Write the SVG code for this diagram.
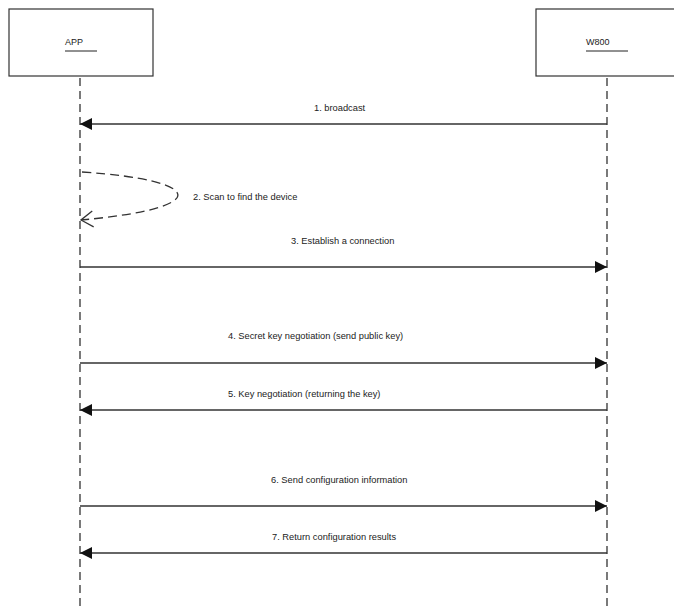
<svg xmlns="http://www.w3.org/2000/svg" width="674" height="611" viewBox="0 0 674 611">
<style>
.box{fill:#fff;stroke:#333;stroke-width:1.2}
.lbl{font-family:"Liberation Sans",Arial,sans-serif;font-size:9px;fill:#222}
.msg{font-family:"Liberation Sans",Arial,sans-serif;font-size:9.3px;fill:#222}
.uline{stroke:#222;stroke-width:1}
.life{stroke:#333;stroke-width:1.3;stroke-dasharray:8 5;fill:none}
.arrow{stroke:#333;stroke-width:1.3;fill:none}
.loop{stroke:#333;stroke-width:1.3;fill:none;stroke-dasharray:9 5}
</style>
<defs>
<marker id="solid" viewBox="0 0 12 12" refX="12" refY="6" markerWidth="12" markerHeight="12" orient="auto" markerUnits="userSpaceOnUse">
<path d="M0,0 L12,6 L0,12 z" fill="#111"/>
</marker>
<marker id="open" viewBox="0 0 14 18" refX="13" refY="9" markerWidth="14" markerHeight="18" orient="auto" markerUnits="userSpaceOnUse">
<path d="M1,1 L13,9 L1,17" fill="none" stroke="#333" stroke-width="1.3"/>
</marker>
</defs>
<rect width="674" height="611" fill="#fff"/>
<g id="node-app">
<rect class="box" x="9" y="9" width="144" height="67"/>
<text class="lbl" x="65" y="45">APP</text>
<line class="uline" x1="65" y1="51" x2="97" y2="51"/>
<line class="life" x1="80" y1="78" x2="80" y2="611"/>
</g>
<g id="node-w800">
<rect class="box" x="536" y="9" width="144" height="67"/>
<text class="lbl" x="586" y="45">W800</text>
<line class="uline" x1="586" y1="51" x2="628" y2="51"/>
<line class="life" x1="607" y1="78" x2="607" y2="611"/>
</g>
<g id="connectors">
<line class="arrow" x1="607" y1="124" x2="80" y2="124" marker-end="url(#solid)"/>
<text class="msg" x="314" y="111">1. broadcast</text>
<path class="loop" d="M82,172 C205,180 215,208 81,220" marker-end="url(#open)"/>
<text class="msg" x="193" y="200">2. Scan to find the device</text>
<line class="arrow" x1="80" y1="267" x2="607" y2="267" marker-end="url(#solid)"/>
<text class="msg" x="291" y="244">3. Establish a connection</text>
<line class="arrow" x1="80" y1="363" x2="607" y2="363" marker-end="url(#solid)"/>
<text class="msg" x="228" y="339">4. Secret key negotiation (send public key)</text>
<line class="arrow" x1="607" y1="410" x2="80" y2="410" marker-end="url(#solid)"/>
<text class="msg" x="228" y="397">5. Key negotiation (returning the key)</text>
<line class="arrow" x1="80" y1="506" x2="607" y2="506" marker-end="url(#solid)"/>
<text class="msg" x="271" y="483">6. Send configuration information</text>
<line class="arrow" x1="607" y1="553" x2="80" y2="553" marker-end="url(#solid)"/>
<text class="msg" x="272" y="540">7. Return configuration results</text>
</g>
</svg>
